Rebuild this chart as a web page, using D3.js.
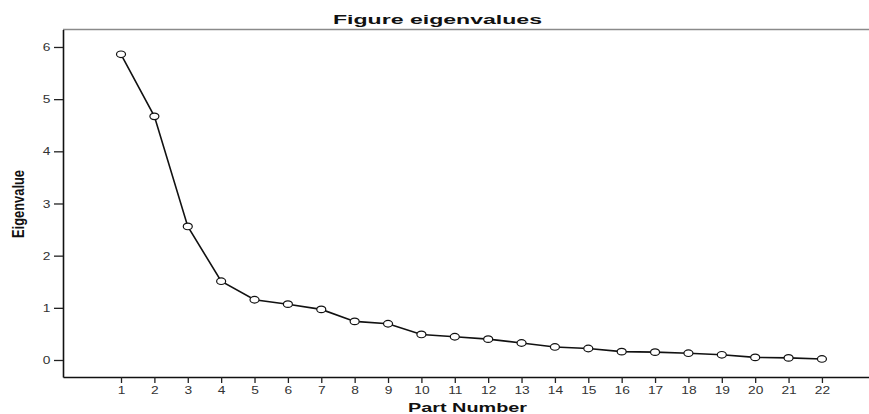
<!DOCTYPE html>
<html>
<head>
<meta charset="utf-8">
<script src="https://cdn.jsdelivr.net/npm/d3@7"></script>
<style>
  html, body { margin: 0; padding: 0; background: #fff; }
  svg { display: block; }
</style>
</head>
<body>
<svg id="chart" width="869" height="414"></svg>
<script>
const components = [1,2,3,4,5,6,7,8,9,10,11,12,13,14,15,16,17,18,19,20,21,22];
const eigenvalues = [5.86,4.67,2.56,1.51,1.155,1.07,0.97,0.74,0.695,0.49,0.446,0.40,0.326,0.25,0.22,0.16,0.15,0.13,0.10,0.05,0.04,0.02];
const yTicks = [0,1,2,3,4,5,6];
const titleText = "Figure eigenvalues";
const xLabel = "Part Number";
const yLabel = "Eigenvalue";

(function () {
const svg = d3.select("#chart");
const mLeft = 63, mRight = 869, mTop = 29.5, mBottom = 377;

const x = d3.scaleLinear().domain([-0.738, 23.41]).range([mLeft, mRight]);
const y = d3.scaleLinear().domain([-0.326, 6.335]).range([mBottom, mTop]);

const font = "'Liberation Sans', Arial, sans-serif";

// top frame line
svg.append("line")
  .attr("x1", mLeft).attr("x2", mRight).attr("y1", mTop).attr("y2", mTop)
  .attr("stroke", "#8a8a8a").attr("stroke-width", 1.6);

// X axis
const xAxis = svg.append("g")
  .attr("transform", `translate(0,${mBottom})`)
  .call(d3.axisBottom(x).tickValues(components).tickFormat(d3.format("d")).tickSize(6).tickPadding(3).tickSizeOuter(0));
xAxis.select(".domain").attr("stroke", "#111").attr("stroke-width", 1.6);
xAxis.selectAll(".tick line").attr("stroke", "#222").attr("stroke-width", 1.3);
xAxis.selectAll(".tick text")
  .attr("font-family", font).attr("font-size", 11).attr("fill", "#333")
  .attr("transform", "scale(1.25,1)");

// Y axis
const yAxis = svg.append("g")
  .attr("transform", `translate(${mLeft},0)`)
  .call(d3.axisLeft(y).tickValues(yTicks).tickFormat(d3.format("d")).tickSize(9).tickPadding(3).tickSizeOuter(0));
yAxis.select(".domain").attr("stroke", "#111").attr("stroke-width", 1.6);
yAxis.selectAll(".tick line").attr("stroke", "#222").attr("stroke-width", 1.3);
yAxis.selectAll(".tick text")
  .attr("font-family", font).attr("font-size", 11).attr("fill", "#333")
  .attr("transform", "scale(1.25,1)").attr("x", -10);

// line
const line = d3.line().x((d, i) => x(components[i])).y(d => y(d));
svg.append("path")
  .datum(eigenvalues)
  .attr("d", line)
  .attr("fill", "none").attr("stroke", "#111").attr("stroke-width", 1.6);

// markers
svg.append("g").selectAll("ellipse")
  .data(eigenvalues)
  .join("ellipse")
  .attr("cx", (d, i) => x(components[i]))
  .attr("cy", d => y(d))
  .attr("rx", 4.5).attr("ry", 3.3)
  .attr("fill", "#fff").attr("stroke", "#111").attr("stroke-width", 1.2);

// title
svg.append("text")
  .attr("x", 437.5).attr("y", 24)
  .attr("text-anchor", "middle")
  .attr("font-family", font).attr("font-weight", "bold").attr("font-size", 13)
  .attr("textLength", 209).attr("lengthAdjust", "spacingAndGlyphs")
  .attr("fill", "#111")
  .text(titleText);

// x label
svg.append("text")
  .attr("x", 467.5).attr("y", 411.5)
  .attr("text-anchor", "middle")
  .attr("font-family", font).attr("font-weight", "bold").attr("font-size", 13.5)
  .attr("textLength", 119).attr("lengthAdjust", "spacingAndGlyphs")
  .attr("fill", "#111")
  .text(xLabel);

// y label
svg.append("text")
  .attr("transform", "translate(24,204) rotate(-90) scale(1,1.3)")
  .attr("text-anchor", "middle")
  .attr("font-family", font).attr("font-weight", "bold").attr("font-size", 13)
  .attr("textLength", 68).attr("lengthAdjust", "spacingAndGlyphs")
  .attr("fill", "#111")
  .text(yLabel);
})();
</script>
</body>
</html>
